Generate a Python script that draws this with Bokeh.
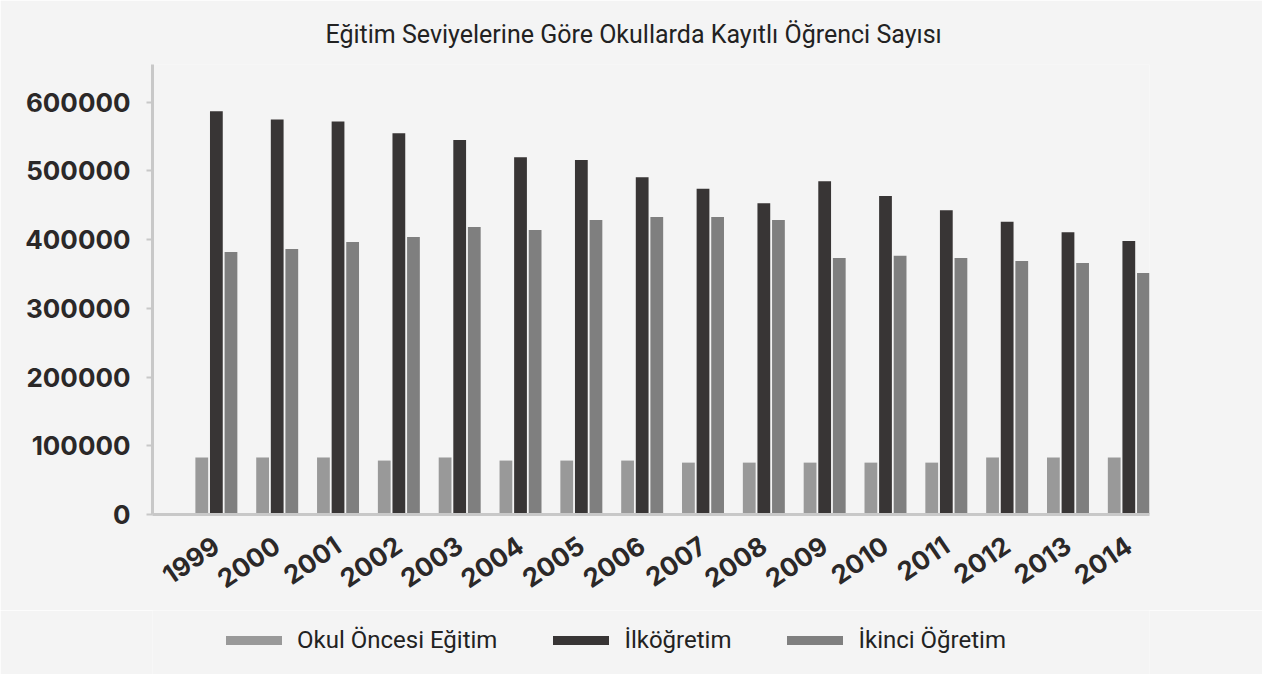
from bokeh.plotting import figure
from bokeh.layouts import column
from bokeh.models import (Legend, LegendItem, FixedTicker, Range1d, ColumnDataSource,
                          NumeralTickFormatter)
from bokeh.transform import dodge
from bokeh.embed import file_html
from bokeh.resources import INLINE

years = [1999, 2000, 2001, 2002, 2003, 2004, 2005, 2006, 2007, 2008, 2009, 2010, 2011, 2012, 2013, 2014]
okul_oncesi = [83000, 83000, 83000, 78500, 83000, 78500, 78500, 78500, 75500, 75500, 75500, 75500, 75500, 83000, 83000, 83000]
ilkogretim = [587000, 575000, 572000, 555000, 545000, 520000, 516000, 491000, 474000, 453000, 485000, 463500, 443000, 426000, 411000, 398000]
ikinci = [382000, 386500, 396500, 404000, 418500, 414000, 428500, 433000, 433000, 428500, 373500, 376500, 373500, 369000, 366000, 351500]
series_names = ["Okul Öncesi Eğitim", "İlköğretim", "İkinci Öğretim"]
colors = ["#999999", "#383535", "#7f7f7f"]
y_ticks = [0, 100000, 200000, 300000, 400000, 500000, 600000]
title_text = "Eğitim Seviyelerine Göre Okullarda Kayıtlı Öğrenci Sayısı"

BG = "#f4f4f4"
src = ColumnDataSource(dict(year=years, okul=okul_oncesi, ilk=ilkogretim, ikinci=ikinci))

p = figure(width=1262, height=610, output_backend="svg", toolbar_location=None,
           x_range=Range1d(1997.95, 2014.34), y_range=Range1d(0, 655000),
           min_border_left=152, min_border_right=113, min_border_top=64, min_border_bottom=96,
           title=title_text)

p.background_fill_color = BG
p.border_fill_color = BG

p.title.align = "left"
p.title.offset = 173
p.title.text_font = "Roboto"
p.title.text_font_size = "25px"
p.title.text_font_style = "normal"
p.title.text_color = "#222222"
p.title.standoff = 32

fields = ["okul", "ilk", "ikinci"]
offsets = [-0.24, 0.0, 0.24]
for f, off, c in zip(fields, offsets, colors):
    p.vbar(x=dodge("year", off, range=p.x_range), top=f, width=0.21, bottom=0,
           source=src, fill_color=c, line_color=None)

p.outline_line_color = None
p.xgrid.visible = False
p.ygrid.visible = False

p.yaxis.ticker = FixedTicker(ticks=y_ticks)
p.yaxis.formatter = NumeralTickFormatter(format="0")
p.xaxis.ticker = FixedTicker(ticks=years)
p.xaxis.formatter = NumeralTickFormatter(format="0")

for ax in (p.xaxis, p.yaxis):
    ax.axis_line_color = "#c8c8c8"
    ax.axis_line_width = 3
    ax.minor_tick_line_color = None
    ax.major_label_text_font = "Inter"
    ax.major_label_text_font_style = "bold"
    ax.major_label_text_font_size = "26px"
    ax.major_label_text_color = "#2b2828"

p.yaxis.major_tick_line_color = "#c8c8c8"
p.yaxis.major_tick_line_width = 2
p.yaxis.major_tick_out = 6
p.yaxis.major_tick_in = 0
p.yaxis.major_label_standoff = 16
p.xaxis.major_tick_line_color = None
p.xaxis.major_label_orientation = 0.6
p.xaxis.major_label_standoff = 22

# legend strip (no axes at all)
lg = figure(width=1262, height=64, output_backend="svg", toolbar_location=None,
            x_range=Range1d(0, 1), y_range=Range1d(0, 1),
            x_axis_location=None, y_axis_location=None,
            min_border_left=152, min_border_right=113, min_border_top=0, min_border_bottom=0)
lg.background_fill_color = BG
lg.border_fill_color = BG
lg.outline_line_color = None
lg.grid.visible = False

items = []
for name, c in zip(series_names, colors):
    r = lg.line(x=[-10, -9], y=[-10, -9], line_color=c, line_width=9, line_cap="round")
    items.append(LegendItem(label=name, renderers=[r]))

legend = Legend(items=items, orientation="horizontal", location=(70, 16),
                glyph_width=56, glyph_height=24, label_standoff=15, spacing=56,
                label_text_font="Roboto", label_text_font_size="24px",
                label_text_color="#222222", border_line_alpha=0,
                background_fill_alpha=0, margin=0, padding=4)
lg.add_layout(legend, "center")

open("out.html", "w").write(file_html(column(p, lg, spacing=0), INLINE))
